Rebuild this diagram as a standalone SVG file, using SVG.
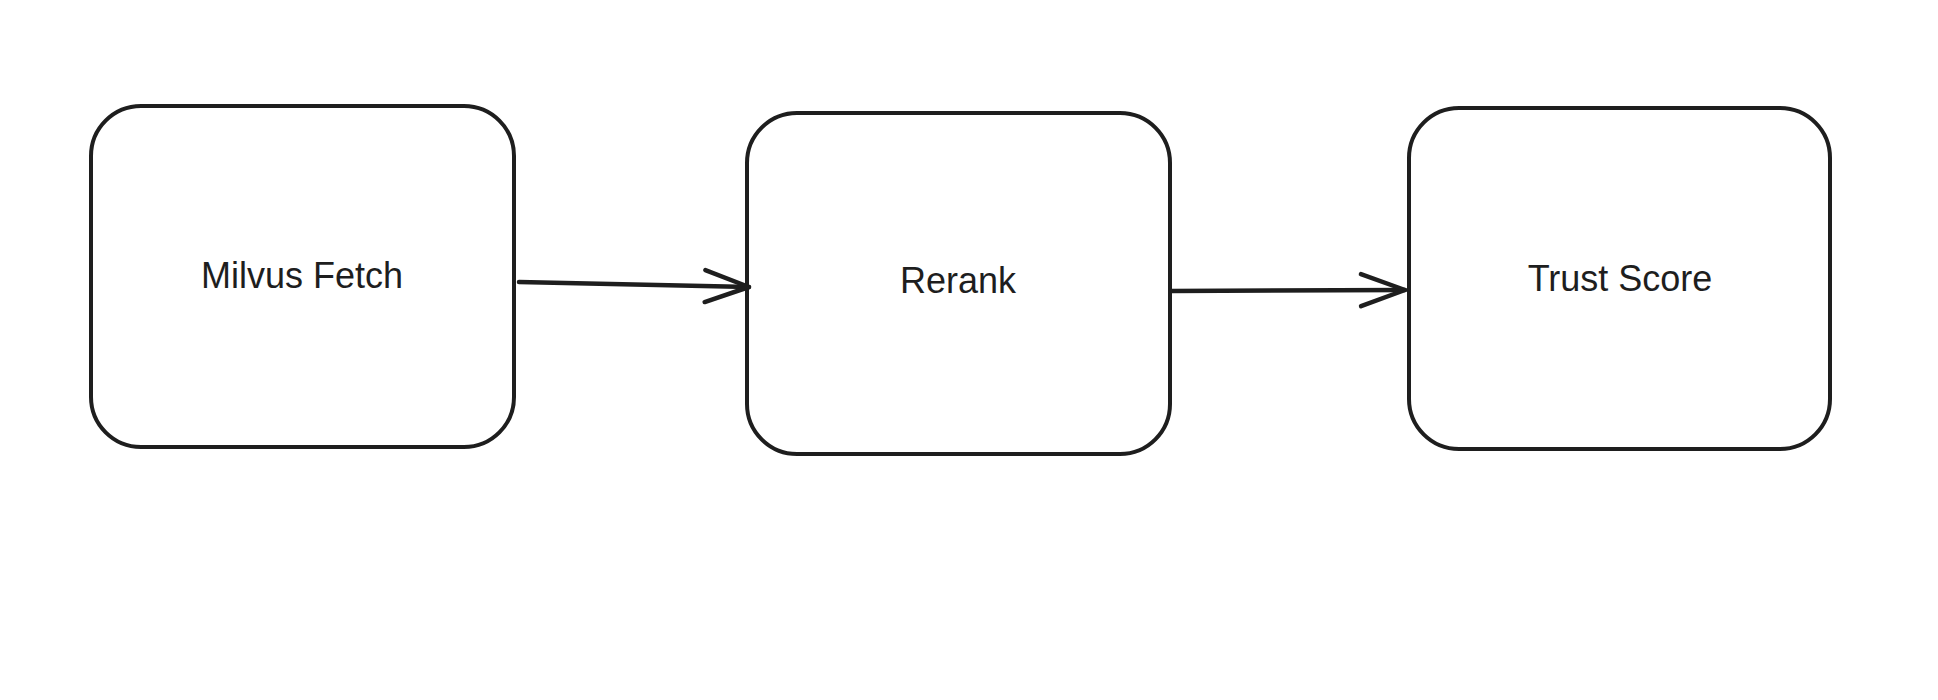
<svg xmlns="http://www.w3.org/2000/svg" width="1938" height="700" viewBox="0 0 1938 700">
  <defs>
    <style>
      .box { fill: #ffffff; stroke: #1e1e1e; stroke-width: 4; stroke-linejoin: round; }
      .label { font-family: "Liberation Sans", Arial, sans-serif; font-size: 36px; fill: #1e1e1e; text-anchor: middle; }
      .conn { fill: none; stroke: #1e1e1e; stroke-width: 4.5; stroke-linecap: round; stroke-linejoin: round; }
    </style>
    <marker id="open-arrow" viewBox="-50 -20 56 40" refX="0" refY="0" markerWidth="56" markerHeight="40" markerUnits="userSpaceOnUse" orient="auto">
      <path d="M -44 -16 L 0 0 L -44 16" fill="none" stroke="#1e1e1e" stroke-width="4.5" stroke-linecap="round" stroke-linejoin="round"/>
    </marker>
  </defs>
  <rect width="1938" height="700" fill="#ffffff"/>

  <g id="node-milvus-fetch">
    <rect class="box" x="91" y="106" width="423" height="341" rx="50" ry="50"/>
    <text class="label" x="302" y="288">Milvus Fetch</text>
  </g>

  <g id="node-rerank">
    <rect class="box" x="747" y="113" width="423" height="341" rx="50" ry="50"/>
    <text class="label" x="958" y="293">Rerank</text>
  </g>

  <g id="node-trust-score">
    <rect class="box" x="1409" y="108" width="421" height="341" rx="50" ry="50"/>
    <text class="label" x="1620" y="291">Trust Score</text>
  </g>

  <g id="connectors">
    <path class="conn" d="M 519 282 L 749 287" marker-end="url(#open-arrow)"/>
    <path class="conn" d="M 1172 291 L 1405 290" marker-end="url(#open-arrow)"/>
  </g>
</svg>
